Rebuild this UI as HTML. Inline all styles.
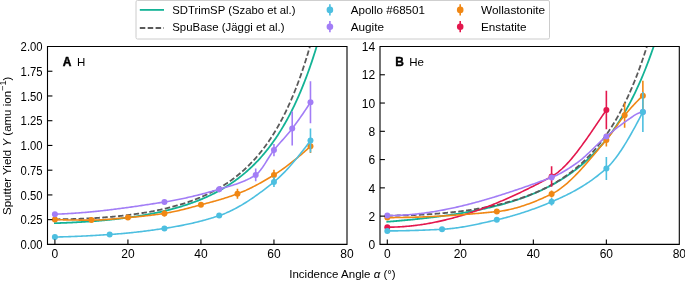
<!DOCTYPE html>
<html><head><meta charset="utf-8"><style>
html,body{margin:0;padding:0;background:#fff;}
svg{display:block;will-change:transform;}
text{font-family:"Liberation Sans", sans-serif;fill:#000;}
.t{font-size:12px;}
.pl{font-size:11.5px;}
.al{font-size:11.5px;}
.lt{font-size:11.5px;}
</style></head><body>
<svg width="685" height="281" viewBox="0 0 685 281">
<defs><clipPath id="cl"><rect x="47.5" y="46.5" width="299.5" height="197.9"/></clipPath><clipPath id="cr"><rect x="380.0" y="46.5" width="299.29999999999995" height="197.9"/></clipPath></defs>
<g clip-path="url(#cl)"><path d="M54.90,223.17 L55.81,223.15 L56.73,223.12 L57.64,223.09 L58.55,223.06 L59.46,223.03 L60.38,223.00 L61.29,222.96 L62.20,222.93 L63.11,222.90 L64.03,222.86 L64.94,222.82 L65.85,222.79 L66.77,222.75 L67.68,222.71 L68.59,222.67 L69.50,222.63 L70.42,222.59 L71.33,222.54 L72.24,222.50 L73.16,222.46 L74.07,222.41 L74.98,222.36 L75.89,222.31 L76.81,222.27 L77.72,222.22 L78.63,222.17 L79.54,222.11 L80.46,222.06 L81.37,222.01 L82.28,221.95 L83.20,221.90 L84.11,221.84 L85.02,221.78 L85.93,221.72 L86.85,221.66 L87.76,221.60 L88.67,221.54 L89.58,221.47 L90.50,221.41 L91.41,221.34 L92.32,221.27 L93.24,221.20 L94.15,221.13 L95.06,221.06 L95.97,220.99 L96.89,220.92 L97.80,220.84 L98.71,220.77 L99.62,220.69 L100.54,220.61 L101.45,220.53 L102.36,220.45 L103.28,220.37 L104.19,220.29 L105.10,220.20 L106.01,220.12 L106.93,220.03 L107.84,219.94 L108.75,219.85 L109.66,219.76 L110.58,219.66 L111.49,219.57 L112.40,219.47 L113.32,219.38 L114.23,219.28 L115.14,219.18 L116.05,219.08 L116.97,218.97 L117.88,218.87 L118.79,218.76 L119.71,218.65 L120.62,218.54 L121.53,218.43 L122.44,218.32 L123.36,218.20 L124.27,218.09 L125.18,217.97 L126.09,217.85 L127.01,217.73 L127.92,217.61 L128.83,217.48 L129.75,217.36 L130.66,217.23 L131.57,217.10 L132.48,216.96 L133.40,216.83 L134.31,216.69 L135.22,216.56 L136.13,216.42 L137.05,216.28 L137.96,216.13 L138.87,215.99 L139.79,215.84 L140.70,215.69 L141.61,215.54 L142.52,215.38 L143.44,215.23 L144.35,215.07 L145.26,214.91 L146.17,214.74 L147.09,214.58 L148.00,214.41 L148.91,214.24 L149.83,214.07 L150.74,213.90 L151.65,213.72 L152.56,213.54 L153.48,213.36 L154.39,213.17 L155.30,212.99 L156.22,212.80 L157.13,212.61 L158.04,212.41 L158.95,212.21 L159.87,212.01 L160.78,211.81 L161.69,211.60 L162.60,211.40 L163.52,211.18 L164.43,210.97 L165.34,210.75 L166.26,210.53 L167.17,210.31 L168.08,210.08 L168.99,209.85 L169.91,209.62 L170.82,209.38 L171.73,209.15 L172.64,208.90 L173.56,208.66 L174.47,208.41 L175.38,208.15 L176.30,207.90 L177.21,207.64 L178.12,207.37 L179.03,207.11 L179.95,206.84 L180.86,206.56 L181.77,206.28 L182.69,206.00 L183.60,205.71 L184.51,205.42 L185.42,205.13 L186.34,204.83 L187.25,204.53 L188.16,204.22 L189.07,203.91 L189.99,203.59 L190.90,203.27 L191.81,202.95 L192.73,202.62 L193.64,202.28 L194.55,201.94 L195.46,201.60 L196.38,201.25 L197.29,200.90 L198.20,200.54 L199.11,200.18 L200.03,199.81 L200.94,199.43 L201.85,199.05 L202.77,198.67 L203.68,198.28 L204.59,197.88 L205.50,197.48 L206.42,197.07 L207.33,196.66 L208.24,196.24 L209.15,195.81 L210.07,195.38 L210.98,194.94 L211.89,194.49 L212.81,194.04 L213.72,193.58 L214.63,193.12 L215.54,192.65 L216.46,192.17 L217.37,191.68 L218.28,191.19 L219.19,190.69 L220.11,190.18 L221.02,189.66 L221.93,189.14 L222.85,188.61 L223.76,188.07 L224.67,187.52 L225.58,186.97 L226.50,186.40 L227.41,185.83 L228.32,185.25 L229.24,184.66 L230.15,184.06 L231.06,183.45 L231.97,182.83 L232.89,182.21 L233.80,181.57 L234.71,180.92 L235.62,180.27 L236.54,179.60 L237.45,178.93 L238.36,178.24 L239.28,177.54 L240.19,176.83 L241.10,176.11 L242.01,175.38 L242.93,174.64 L243.84,173.88 L244.75,173.12 L245.66,172.34 L246.58,171.55 L247.49,170.74 L248.40,169.93 L249.32,169.10 L250.23,168.26 L251.14,167.40 L252.05,166.53 L252.97,165.65 L253.88,164.75 L254.79,163.84 L255.70,162.91 L256.62,161.97 L257.53,161.01 L258.44,160.04 L259.36,159.05 L260.27,158.04 L261.18,157.02 L262.09,155.98 L263.01,154.93 L263.92,153.85 L264.83,152.76 L265.75,151.65 L266.66,150.52 L267.57,149.38 L268.48,148.21 L269.40,147.03 L270.31,145.82 L271.22,144.60 L272.13,143.35 L273.05,142.08 L273.96,140.79 L274.87,139.48 L275.79,138.15 L276.70,136.79 L277.61,135.41 L278.52,134.01 L279.44,132.58 L280.35,131.13 L281.26,129.65 L282.17,128.15 L283.09,126.62 L284.00,125.07 L284.91,123.48 L285.83,121.87 L286.74,120.23 L287.65,118.56 L288.56,116.87 L289.48,115.14 L290.39,113.38 L291.30,111.59 L292.21,109.77 L293.13,107.92 L294.04,106.03 L294.95,104.11 L295.87,102.15 L296.78,100.16 L297.69,98.13 L298.60,96.07 L299.52,93.97 L300.43,91.83 L301.34,89.65 L302.26,87.43 L303.17,85.17 L304.08,82.87 L304.99,80.52 L305.91,78.13 L306.82,75.70 L307.73,73.22 L308.64,70.70 L309.56,68.13 L310.47,65.51 L311.38,62.84 L312.30,60.12 L313.21,57.35 L314.12,54.53 L315.03,51.66 L315.95,48.72 L316.86,45.74 L317.77,42.69" fill="none" stroke="#14b396" stroke-width="1.8" stroke-linecap="square"/>
<path d="M54.90,219.31 L55.81,219.30 L56.73,219.30 L57.64,219.29 L58.55,219.28 L59.46,219.27 L60.38,219.26 L61.29,219.25 L62.20,219.24 L63.11,219.23 L64.03,219.21 L64.94,219.20 L65.85,219.18 L66.77,219.16 L67.68,219.14 L68.59,219.12 L69.50,219.10 L70.42,219.08 L71.33,219.06 L72.24,219.03 L73.16,219.01 L74.07,218.98 L74.98,218.95 L75.89,218.92 L76.81,218.89 L77.72,218.86 L78.63,218.83 L79.54,218.80 L80.46,218.76 L81.37,218.73 L82.28,218.69 L83.20,218.65 L84.11,218.61 L85.02,218.57 L85.93,218.53 L86.85,218.48 L87.76,218.44 L88.67,218.39 L89.58,218.35 L90.50,218.30 L91.41,218.25 L92.32,218.20 L93.24,218.15 L94.15,218.09 L95.06,218.04 L95.97,217.98 L96.89,217.92 L97.80,217.87 L98.71,217.81 L99.62,217.74 L100.54,217.68 L101.45,217.62 L102.36,217.55 L103.28,217.48 L104.19,217.42 L105.10,217.35 L106.01,217.27 L106.93,217.20 L107.84,217.13 L108.75,217.05 L109.66,216.97 L110.58,216.89 L111.49,216.81 L112.40,216.73 L113.32,216.65 L114.23,216.56 L115.14,216.47 L116.05,216.39 L116.97,216.29 L117.88,216.20 L118.79,216.11 L119.71,216.01 L120.62,215.92 L121.53,215.82 L122.44,215.72 L123.36,215.61 L124.27,215.51 L125.18,215.40 L126.09,215.30 L127.01,215.19 L127.92,215.08 L128.83,214.96 L129.75,214.85 L130.66,214.73 L131.57,214.61 L132.48,214.49 L133.40,214.36 L134.31,214.24 L135.22,214.11 L136.13,213.98 L137.05,213.85 L137.96,213.72 L138.87,213.58 L139.79,213.44 L140.70,213.30 L141.61,213.16 L142.52,213.01 L143.44,212.87 L144.35,212.72 L145.26,212.57 L146.17,212.41 L147.09,212.25 L148.00,212.09 L148.91,211.93 L149.83,211.77 L150.74,211.60 L151.65,211.43 L152.56,211.26 L153.48,211.08 L154.39,210.91 L155.30,210.73 L156.22,210.54 L157.13,210.36 L158.04,210.17 L158.95,209.98 L159.87,209.78 L160.78,209.59 L161.69,209.38 L162.60,209.18 L163.52,208.97 L164.43,208.76 L165.34,208.55 L166.26,208.33 L167.17,208.12 L168.08,207.89 L168.99,207.67 L169.91,207.44 L170.82,207.20 L171.73,206.97 L172.64,206.73 L173.56,206.48 L174.47,206.23 L175.38,205.98 L176.30,205.73 L177.21,205.47 L178.12,205.20 L179.03,204.94 L179.95,204.66 L180.86,204.39 L181.77,204.11 L182.69,203.83 L183.60,203.54 L184.51,203.25 L185.42,202.95 L186.34,202.65 L187.25,202.34 L188.16,202.03 L189.07,201.71 L189.99,201.39 L190.90,201.07 L191.81,200.74 L192.73,200.40 L193.64,200.06 L194.55,199.72 L195.46,199.36 L196.38,199.01 L197.29,198.65 L198.20,198.28 L199.11,197.90 L200.03,197.53 L200.94,197.14 L201.85,196.75 L202.77,196.35 L203.68,195.95 L204.59,195.54 L205.50,195.12 L206.42,194.70 L207.33,194.27 L208.24,193.84 L209.15,193.39 L210.07,192.94 L210.98,192.49 L211.89,192.02 L212.81,191.55 L213.72,191.07 L214.63,190.59 L215.54,190.09 L216.46,189.59 L217.37,189.08 L218.28,188.56 L219.19,188.04 L220.11,187.50 L221.02,186.96 L221.93,186.41 L222.85,185.85 L223.76,185.28 L224.67,184.70 L225.58,184.11 L226.50,183.51 L227.41,182.90 L228.32,182.29 L229.24,181.66 L230.15,181.02 L231.06,180.37 L231.97,179.71 L232.89,179.04 L233.80,178.36 L234.71,177.67 L235.62,176.96 L236.54,176.24 L237.45,175.52 L238.36,174.78 L239.28,174.02 L240.19,173.26 L241.10,172.48 L242.01,171.69 L242.93,170.88 L243.84,170.06 L244.75,169.23 L245.66,168.38 L246.58,167.52 L247.49,166.65 L248.40,165.76 L249.32,164.85 L250.23,163.93 L251.14,162.99 L252.05,162.04 L252.97,161.06 L253.88,160.08 L254.79,159.07 L255.70,158.05 L256.62,157.01 L257.53,155.95 L258.44,154.87 L259.36,153.77 L260.27,152.66 L261.18,151.52 L262.09,150.36 L263.01,149.18 L263.92,147.99 L264.83,146.76 L265.75,145.52 L266.66,144.26 L267.57,142.97 L268.48,141.66 L269.40,140.32 L270.31,138.96 L271.22,137.58 L272.13,136.17 L273.05,134.73 L273.96,133.27 L274.87,131.78 L275.79,130.26 L276.70,128.71 L277.61,127.14 L278.52,125.53 L279.44,123.90 L280.35,122.23 L281.26,120.54 L282.17,118.81 L283.09,117.04 L284.00,115.25 L284.91,113.42 L285.83,111.55 L286.74,109.65 L287.65,107.71 L288.56,105.74 L289.48,103.72 L290.39,101.67 L291.30,99.58 L292.21,97.44 L293.13,95.27 L294.04,93.05 L294.95,90.78 L295.87,88.48 L296.78,86.12 L297.69,83.72 L298.60,81.27 L299.52,78.78 L300.43,76.23 L301.34,73.63 L302.26,70.98 L303.17,68.27 L304.08,65.51 L304.99,62.70 L305.91,59.82 L306.82,56.89 L307.73,53.90 L308.64,50.84 L309.56,47.73 L310.47,44.54 L311.38,41.30" fill="none" stroke="#5a5a5a" stroke-width="1.8" stroke-dasharray="5.5,2.4"/>
<path d="M54.90,219.50 L56.18,219.56 L57.47,219.62 L58.75,219.67 L60.04,219.72 L61.32,219.76 L62.61,219.81 L63.89,219.84 L65.17,219.88 L66.46,219.91 L67.74,219.94 L69.03,219.96 L70.31,219.98 L71.60,220.00 L72.88,220.02 L74.16,220.04 L75.45,220.05 L76.73,220.06 L78.02,220.07 L79.30,220.08 L80.59,220.08 L81.87,220.09 L83.15,220.09 L84.44,220.10 L85.72,220.10 L87.01,220.10 L88.29,220.10 L89.58,220.10 L90.86,220.10 L92.14,220.10 L93.43,220.09 L94.71,220.07 L96.00,220.03 L97.28,219.99 L98.57,219.95 L99.85,219.89 L101.13,219.83 L102.42,219.75 L103.70,219.68 L104.99,219.59 L106.27,219.50 L107.56,219.41 L108.84,219.31 L110.12,219.20 L111.41,219.10 L112.69,218.99 L113.98,218.87 L115.26,218.76 L116.55,218.64 L117.83,218.52 L119.11,218.40 L120.40,218.28 L121.68,218.16 L122.97,218.04 L124.25,217.93 L125.53,217.81 L126.82,217.70 L128.10,217.58 L129.39,217.47 L130.67,217.36 L131.96,217.24 L133.24,217.13 L134.52,217.01 L135.81,216.89 L137.09,216.76 L138.38,216.64 L139.66,216.51 L140.95,216.38 L142.23,216.24 L143.51,216.11 L144.80,215.97 L146.08,215.82 L147.37,215.68 L148.65,215.53 L149.94,215.38 L151.22,215.22 L152.50,215.06 L153.79,214.90 L155.07,214.73 L156.36,214.56 L157.64,214.39 L158.93,214.21 L160.21,214.03 L161.49,213.84 L162.78,213.65 L164.06,213.46 L165.35,213.26 L166.63,213.04 L167.92,212.82 L169.20,212.58 L170.48,212.34 L171.77,212.08 L173.05,211.82 L174.34,211.55 L175.62,211.27 L176.91,210.98 L178.19,210.68 L179.47,210.38 L180.76,210.07 L182.04,209.76 L183.33,209.44 L184.61,209.12 L185.90,208.79 L187.18,208.46 L188.46,208.12 L189.75,207.78 L191.03,207.44 L192.32,207.10 L193.60,206.76 L194.89,206.42 L196.17,206.07 L197.45,205.73 L198.74,205.38 L200.02,205.04 L201.31,204.70 L202.59,204.36 L203.88,204.02 L205.16,203.68 L206.44,203.34 L207.73,203.00 L209.01,202.66 L210.30,202.31 L211.58,201.97 L212.87,201.62 L214.15,201.26 L215.43,200.90 L216.72,200.54 L218.00,200.18 L219.29,199.80 L220.57,199.43 L221.86,199.05 L223.14,198.66 L224.42,198.26 L225.71,197.86 L226.99,197.45 L228.28,197.04 L229.56,196.61 L230.85,196.18 L232.13,195.74 L233.41,195.28 L234.70,194.82 L235.98,194.35 L237.27,193.87 L238.55,193.38 L239.84,192.87 L241.12,192.34 L242.40,191.80 L243.69,191.25 L244.97,190.68 L246.26,190.11 L247.54,189.51 L248.82,188.91 L250.11,188.29 L251.39,187.66 L252.68,187.02 L253.96,186.36 L255.25,185.70 L256.53,185.02 L257.81,184.33 L259.10,183.64 L260.38,182.93 L261.67,182.21 L262.95,181.48 L264.24,180.75 L265.52,180.00 L266.80,179.25 L268.09,178.48 L269.37,177.71 L270.66,176.94 L271.94,176.15 L273.23,175.36 L274.51,174.56 L275.79,173.74 L277.08,172.91 L278.36,172.06 L279.65,171.19 L280.93,170.31 L282.22,169.42 L283.50,168.50 L284.78,167.58 L286.07,166.64 L287.35,165.68 L288.64,164.71 L289.92,163.73 L291.21,162.73 L292.49,161.72 L293.77,160.69 L295.06,159.66 L296.34,158.61 L297.63,157.55 L298.91,156.47 L300.20,155.39 L301.48,154.29 L302.76,153.18 L304.05,152.06 L305.33,150.93 L306.62,149.79 L307.90,148.63 L309.19,147.47 L310.47,146.30" fill="none" stroke="#f08714" stroke-width="1.6" stroke-linejoin="round" stroke-linecap="square"/>
<circle cx="54.90" cy="219.50" r="3.0" fill="#f08714"/>
<circle cx="91.41" cy="220.10" r="3.0" fill="#f08714"/>
<circle cx="127.92" cy="217.60" r="3.0" fill="#f08714"/>
<line x1="164.43" y1="210.20" x2="164.43" y2="216.60" stroke="#f08714" stroke-width="1.6"/>
<circle cx="164.43" cy="213.40" r="3.0" fill="#f08714"/>
<line x1="200.94" y1="202.80" x2="200.94" y2="206.80" stroke="#f08714" stroke-width="1.6"/>
<circle cx="200.94" cy="204.80" r="3.0" fill="#f08714"/>
<line x1="237.45" y1="188.80" x2="237.45" y2="198.80" stroke="#f08714" stroke-width="1.6"/>
<circle cx="237.45" cy="193.80" r="3.0" fill="#f08714"/>
<line x1="273.96" y1="169.70" x2="273.96" y2="180.10" stroke="#f08714" stroke-width="1.6"/>
<circle cx="273.96" cy="174.90" r="3.0" fill="#f08714"/>
<line x1="310.47" y1="139.60" x2="310.47" y2="153.00" stroke="#f08714" stroke-width="1.6"/>
<circle cx="310.47" cy="146.30" r="3.0" fill="#f08714"/>
<path d="M54.90,214.20 L56.18,214.16 L57.47,214.12 L58.75,214.07 L60.04,214.02 L61.32,213.97 L62.61,213.91 L63.89,213.85 L65.17,213.78 L66.46,213.72 L67.74,213.65 L69.03,213.57 L70.31,213.50 L71.60,213.42 L72.88,213.33 L74.16,213.25 L75.45,213.16 L76.73,213.07 L78.02,212.97 L79.30,212.88 L80.59,212.78 L81.87,212.67 L83.15,212.57 L84.44,212.46 L85.72,212.35 L87.01,212.24 L88.29,212.12 L89.58,212.00 L90.86,211.88 L92.14,211.76 L93.43,211.63 L94.71,211.50 L96.00,211.37 L97.28,211.24 L98.57,211.10 L99.85,210.96 L101.13,210.82 L102.42,210.68 L103.70,210.54 L104.99,210.39 L106.27,210.24 L107.56,210.09 L108.84,209.94 L110.12,209.79 L111.41,209.63 L112.69,209.47 L113.98,209.31 L115.26,209.15 L116.55,208.99 L117.83,208.82 L119.11,208.66 L120.40,208.49 L121.68,208.32 L122.97,208.15 L124.25,207.97 L125.53,207.80 L126.82,207.62 L128.10,207.44 L129.39,207.27 L130.67,207.09 L131.96,206.90 L133.24,206.72 L134.52,206.54 L135.81,206.35 L137.09,206.17 L138.38,205.98 L139.66,205.79 L140.95,205.60 L142.23,205.41 L143.51,205.22 L144.80,205.03 L146.08,204.83 L147.37,204.64 L148.65,204.44 L149.94,204.25 L151.22,204.05 L152.50,203.86 L153.79,203.66 L155.07,203.46 L156.36,203.26 L157.64,203.06 L158.93,202.86 L160.21,202.66 L161.49,202.46 L162.78,202.26 L164.06,202.06 L165.35,201.85 L166.63,201.65 L167.92,201.43 L169.20,201.21 L170.48,200.99 L171.77,200.76 L173.05,200.53 L174.34,200.29 L175.62,200.04 L176.91,199.79 L178.19,199.54 L179.47,199.28 L180.76,199.02 L182.04,198.75 L183.33,198.48 L184.61,198.20 L185.90,197.92 L187.18,197.63 L188.46,197.34 L189.75,197.05 L191.03,196.75 L192.32,196.44 L193.60,196.14 L194.89,195.82 L196.17,195.51 L197.45,195.19 L198.74,194.86 L200.02,194.53 L201.31,194.20 L202.59,193.87 L203.88,193.53 L205.16,193.18 L206.44,192.84 L207.73,192.48 L209.01,192.13 L210.30,191.77 L211.58,191.41 L212.87,191.05 L214.15,190.68 L215.43,190.31 L216.72,189.93 L218.00,189.55 L219.29,189.17 L220.57,188.79 L221.86,188.42 L223.14,188.05 L224.42,187.68 L225.71,187.31 L226.99,186.93 L228.28,186.56 L229.56,186.18 L230.85,185.79 L232.13,185.40 L233.41,184.99 L234.70,184.58 L235.98,184.15 L237.27,183.71 L238.55,183.26 L239.84,182.78 L241.12,182.29 L242.40,181.78 L243.69,181.24 L244.97,180.68 L246.26,180.10 L247.54,179.49 L248.82,178.85 L250.11,178.19 L251.39,177.49 L252.68,176.76 L253.96,175.99 L255.25,175.19 L256.53,174.31 L257.81,173.19 L259.10,171.84 L260.38,170.30 L261.67,168.60 L262.95,166.77 L264.24,164.83 L265.52,162.83 L266.80,160.78 L268.09,158.73 L269.37,156.70 L270.66,154.73 L271.94,152.83 L273.23,151.05 L274.51,149.41 L275.79,147.83 L277.08,146.28 L278.36,144.77 L279.65,143.29 L280.93,141.82 L282.22,140.36 L283.50,138.91 L284.78,137.44 L286.07,135.97 L287.35,134.47 L288.64,132.95 L289.92,131.39 L291.21,129.79 L292.49,128.14 L293.77,126.46 L295.06,124.75 L296.34,123.01 L297.63,121.24 L298.91,119.46 L300.20,117.64 L301.48,115.80 L302.76,113.94 L304.05,112.06 L305.33,110.15 L306.62,108.22 L307.90,106.27 L309.19,104.29 L310.47,102.30" fill="none" stroke="#a27df6" stroke-width="1.6" stroke-linejoin="round" stroke-linecap="square"/>
<circle cx="54.90" cy="214.20" r="3.0" fill="#a27df6"/>
<circle cx="164.43" cy="202.00" r="3.0" fill="#a27df6"/>
<line x1="219.19" y1="186.20" x2="219.19" y2="192.20" stroke="#a27df6" stroke-width="1.6"/>
<circle cx="219.19" cy="189.20" r="3.0" fill="#a27df6"/>
<line x1="255.70" y1="168.60" x2="255.70" y2="181.20" stroke="#a27df6" stroke-width="1.6"/>
<circle cx="255.70" cy="174.90" r="3.0" fill="#a27df6"/>
<line x1="273.96" y1="143.90" x2="273.96" y2="156.30" stroke="#a27df6" stroke-width="1.6"/>
<circle cx="273.96" cy="150.10" r="3.0" fill="#a27df6"/>
<line x1="292.21" y1="111.50" x2="292.21" y2="145.50" stroke="#a27df6" stroke-width="1.6"/>
<circle cx="292.21" cy="128.50" r="3.0" fill="#a27df6"/>
<line x1="310.47" y1="81.30" x2="310.47" y2="123.30" stroke="#a27df6" stroke-width="1.6"/>
<circle cx="310.47" cy="102.30" r="3.0" fill="#a27df6"/>
<path d="M54.90,237.00 L56.18,236.98 L57.47,236.96 L58.75,236.94 L60.04,236.91 L61.32,236.88 L62.61,236.85 L63.89,236.82 L65.17,236.78 L66.46,236.75 L67.74,236.71 L69.03,236.66 L70.31,236.62 L71.60,236.57 L72.88,236.52 L74.16,236.47 L75.45,236.42 L76.73,236.36 L78.02,236.31 L79.30,236.25 L80.59,236.19 L81.87,236.13 L83.15,236.06 L84.44,236.00 L85.72,235.93 L87.01,235.86 L88.29,235.79 L89.58,235.72 L90.86,235.65 L92.14,235.58 L93.43,235.51 L94.71,235.43 L96.00,235.36 L97.28,235.28 L98.57,235.20 L99.85,235.12 L101.13,235.04 L102.42,234.96 L103.70,234.88 L104.99,234.80 L106.27,234.72 L107.56,234.64 L108.84,234.55 L110.12,234.47 L111.41,234.38 L112.69,234.30 L113.98,234.20 L115.26,234.11 L116.55,234.01 L117.83,233.91 L119.11,233.80 L120.40,233.69 L121.68,233.58 L122.97,233.47 L124.25,233.35 L125.53,233.23 L126.82,233.11 L128.10,232.99 L129.39,232.86 L130.67,232.73 L131.96,232.59 L133.24,232.46 L134.52,232.32 L135.81,232.18 L137.09,232.03 L138.38,231.89 L139.66,231.74 L140.95,231.59 L142.23,231.43 L143.51,231.28 L144.80,231.12 L146.08,230.95 L147.37,230.79 L148.65,230.62 L149.94,230.46 L151.22,230.28 L152.50,230.11 L153.79,229.94 L155.07,229.76 L156.36,229.58 L157.64,229.40 L158.93,229.21 L160.21,229.03 L161.49,228.84 L162.78,228.65 L164.06,228.46 L165.35,228.26 L166.63,228.06 L167.92,227.86 L169.20,227.65 L170.48,227.44 L171.77,227.23 L173.05,227.01 L174.34,226.79 L175.62,226.56 L176.91,226.33 L178.19,226.10 L179.47,225.85 L180.76,225.61 L182.04,225.36 L183.33,225.10 L184.61,224.84 L185.90,224.58 L187.18,224.31 L188.46,224.03 L189.75,223.75 L191.03,223.46 L192.32,223.17 L193.60,222.87 L194.89,222.57 L196.17,222.26 L197.45,221.94 L198.74,221.62 L200.02,221.29 L201.31,220.96 L202.59,220.62 L203.88,220.27 L205.16,219.92 L206.44,219.56 L207.73,219.19 L209.01,218.82 L210.30,218.44 L211.58,218.05 L212.87,217.65 L214.15,217.25 L215.43,216.84 L216.72,216.42 L218.00,216.00 L219.29,215.57 L220.57,215.12 L221.86,214.65 L223.14,214.16 L224.42,213.65 L225.71,213.13 L226.99,212.58 L228.28,212.01 L229.56,211.42 L230.85,210.81 L232.13,210.19 L233.41,209.55 L234.70,208.89 L235.98,208.21 L237.27,207.51 L238.55,206.80 L239.84,206.07 L241.12,205.33 L242.40,204.57 L243.69,203.80 L244.97,203.01 L246.26,202.20 L247.54,201.38 L248.82,200.55 L250.11,199.70 L251.39,198.84 L252.68,197.97 L253.96,197.08 L255.25,196.18 L256.53,195.27 L257.81,194.35 L259.10,193.42 L260.38,192.47 L261.67,191.52 L262.95,190.55 L264.24,189.58 L265.52,188.59 L266.80,187.60 L268.09,186.59 L269.37,185.58 L270.66,184.56 L271.94,183.53 L273.23,182.50 L274.51,181.45 L275.79,180.37 L277.08,179.25 L278.36,178.10 L279.65,176.91 L280.93,175.69 L282.22,174.43 L283.50,173.14 L284.78,171.83 L286.07,170.48 L287.35,169.10 L288.64,167.69 L289.92,166.26 L291.21,164.81 L292.49,163.32 L293.77,161.82 L295.06,160.29 L296.34,158.74 L297.63,157.17 L298.91,155.58 L300.20,153.98 L301.48,152.35 L302.76,150.71 L304.05,149.06 L305.33,147.39 L306.62,145.71 L307.90,144.02 L309.19,142.31 L310.47,140.60" fill="none" stroke="#4dbfe0" stroke-width="1.6" stroke-linejoin="round" stroke-linecap="square"/>
<circle cx="54.90" cy="237.00" r="3.0" fill="#4dbfe0"/>
<circle cx="109.66" cy="234.50" r="3.0" fill="#4dbfe0"/>
<circle cx="164.43" cy="228.40" r="3.0" fill="#4dbfe0"/>
<circle cx="219.19" cy="215.60" r="3.0" fill="#4dbfe0"/>
<line x1="273.96" y1="176.90" x2="273.96" y2="186.90" stroke="#4dbfe0" stroke-width="1.6"/>
<circle cx="273.96" cy="181.90" r="3.0" fill="#4dbfe0"/>
<line x1="310.47" y1="128.60" x2="310.47" y2="152.60" stroke="#4dbfe0" stroke-width="1.6"/>
<circle cx="310.47" cy="140.60" r="3.0" fill="#4dbfe0"/></g>
<g clip-path="url(#cr)"><path d="M387.30,221.75 L388.21,221.68 L389.13,221.61 L390.04,221.53 L390.95,221.46 L391.86,221.38 L392.78,221.31 L393.69,221.23 L394.60,221.16 L395.51,221.08 L396.43,221.00 L397.34,220.92 L398.25,220.84 L399.17,220.76 L400.08,220.68 L400.99,220.60 L401.90,220.52 L402.82,220.44 L403.73,220.35 L404.64,220.27 L405.56,220.19 L406.47,220.10 L407.38,220.01 L408.29,219.93 L409.21,219.84 L410.12,219.75 L411.03,219.66 L411.94,219.57 L412.86,219.48 L413.77,219.39 L414.68,219.29 L415.60,219.20 L416.51,219.11 L417.42,219.01 L418.33,218.92 L419.25,218.82 L420.16,218.72 L421.07,218.62 L421.98,218.52 L422.90,218.42 L423.81,218.32 L424.72,218.22 L425.64,218.11 L426.55,218.01 L427.46,217.90 L428.37,217.80 L429.29,217.69 L430.20,217.58 L431.11,217.47 L432.02,217.36 L432.94,217.25 L433.85,217.13 L434.76,217.02 L435.68,216.90 L436.59,216.79 L437.50,216.67 L438.41,216.55 L439.33,216.43 L440.24,216.31 L441.15,216.19 L442.06,216.07 L442.98,215.94 L443.89,215.82 L444.80,215.69 L445.72,215.56 L446.63,215.43 L447.54,215.30 L448.45,215.17 L449.37,215.03 L450.28,214.90 L451.19,214.76 L452.11,214.62 L453.02,214.48 L453.93,214.34 L454.84,214.20 L455.76,214.06 L456.67,213.91 L457.58,213.77 L458.49,213.62 L459.41,213.47 L460.32,213.32 L461.23,213.17 L462.15,213.01 L463.06,212.86 L463.97,212.70 L464.88,212.54 L465.80,212.38 L466.71,212.22 L467.62,212.05 L468.53,211.89 L469.45,211.72 L470.36,211.55 L471.27,211.38 L472.19,211.20 L473.10,211.03 L474.01,210.85 L474.92,210.67 L475.84,210.49 L476.75,210.31 L477.66,210.12 L478.57,209.94 L479.49,209.75 L480.40,209.56 L481.31,209.37 L482.23,209.17 L483.14,208.97 L484.05,208.77 L484.96,208.57 L485.88,208.37 L486.79,208.16 L487.70,207.95 L488.62,207.74 L489.53,207.53 L490.44,207.31 L491.35,207.10 L492.27,206.87 L493.18,206.65 L494.09,206.43 L495.00,206.20 L495.92,205.97 L496.83,205.73 L497.74,205.50 L498.66,205.26 L499.57,205.02 L500.48,204.77 L501.39,204.53 L502.31,204.28 L503.22,204.02 L504.13,203.77 L505.04,203.51 L505.96,203.25 L506.87,202.98 L507.78,202.72 L508.70,202.44 L509.61,202.17 L510.52,201.89 L511.43,201.61 L512.35,201.33 L513.26,201.04 L514.17,200.75 L515.09,200.46 L516.00,200.16 L516.91,199.86 L517.82,199.55 L518.74,199.24 L519.65,198.93 L520.56,198.61 L521.47,198.29 L522.39,197.97 L523.30,197.64 L524.21,197.31 L525.13,196.97 L526.04,196.63 L526.95,196.29 L527.86,195.94 L528.78,195.58 L529.69,195.23 L530.60,194.87 L531.51,194.50 L532.43,194.13 L533.34,193.75 L534.25,193.37 L535.17,192.99 L536.08,192.60 L536.99,192.20 L537.90,191.80 L538.82,191.40 L539.73,190.98 L540.64,190.57 L541.55,190.15 L542.47,189.72 L543.38,189.29 L544.29,188.85 L545.21,188.41 L546.12,187.96 L547.03,187.51 L547.94,187.04 L548.86,186.58 L549.77,186.10 L550.68,185.63 L551.60,185.14 L552.51,184.65 L553.42,184.15 L554.33,183.64 L555.25,183.13 L556.16,182.61 L557.07,182.09 L557.98,181.56 L558.90,181.02 L559.81,180.47 L560.72,179.91 L561.64,179.35 L562.55,178.78 L563.46,178.21 L564.37,177.62 L565.29,177.03 L566.20,176.43 L567.11,175.82 L568.02,175.20 L568.94,174.57 L569.85,173.94 L570.76,173.29 L571.68,172.64 L572.59,171.98 L573.50,171.30 L574.41,170.62 L575.33,169.93 L576.24,169.23 L577.15,168.52 L578.06,167.80 L578.98,167.07 L579.89,166.33 L580.80,165.58 L581.72,164.81 L582.63,164.04 L583.54,163.25 L584.45,162.46 L585.37,161.65 L586.28,160.83 L587.19,160.00 L588.11,159.16 L589.02,158.30 L589.93,157.43 L590.84,156.55 L591.76,155.66 L592.67,154.75 L593.58,153.83 L594.49,152.89 L595.41,151.94 L596.32,150.98 L597.23,150.00 L598.15,149.01 L599.06,148.00 L599.97,146.98 L600.88,145.94 L601.80,144.89 L602.71,143.82 L603.62,142.73 L604.53,141.63 L605.45,140.51 L606.36,139.37 L607.27,138.22 L608.19,137.04 L609.10,135.85 L610.01,134.64 L610.92,133.42 L611.84,132.17 L612.75,130.90 L613.66,129.61 L614.57,128.31 L615.49,126.98 L616.40,125.63 L617.31,124.26 L618.23,122.86 L619.14,121.45 L620.05,120.01 L620.96,118.55 L621.88,117.06 L622.79,115.56 L623.70,114.02 L624.62,112.46 L625.53,110.88 L626.44,109.27 L627.35,107.63 L628.27,105.97 L629.18,104.28 L630.09,102.56 L631.00,100.81 L631.92,99.04 L632.83,97.23 L633.74,95.40 L634.66,93.53 L635.57,91.63 L636.48,89.70 L637.39,87.74 L638.31,85.74 L639.22,83.71 L640.13,81.64 L641.04,79.54 L641.96,77.41 L642.87,75.23 L643.78,73.02 L644.70,70.77 L645.61,68.48 L646.52,66.16 L647.43,63.79 L648.35,61.38 L649.26,58.93 L650.17,56.43 L651.08,53.89 L652.00,51.31 L652.91,48.68 L653.82,46.00 L654.74,43.27" fill="none" stroke="#14b396" stroke-width="1.8" stroke-linecap="square"/>
<path d="M387.30,215.64 L388.21,215.63 L389.13,215.63 L390.04,215.62 L390.95,215.61 L391.86,215.60 L392.78,215.59 L393.69,215.58 L394.60,215.57 L395.51,215.55 L396.43,215.54 L397.34,215.52 L398.25,215.51 L399.17,215.49 L400.08,215.47 L400.99,215.45 L401.90,215.43 L402.82,215.40 L403.73,215.38 L404.64,215.35 L405.56,215.33 L406.47,215.30 L407.38,215.27 L408.29,215.24 L409.21,215.21 L410.12,215.18 L411.03,215.15 L411.94,215.11 L412.86,215.07 L413.77,215.04 L414.68,215.00 L415.60,214.96 L416.51,214.92 L417.42,214.88 L418.33,214.83 L419.25,214.79 L420.16,214.74 L421.07,214.70 L421.98,214.65 L422.90,214.60 L423.81,214.55 L424.72,214.49 L425.64,214.44 L426.55,214.39 L427.46,214.33 L428.37,214.27 L429.29,214.21 L430.20,214.15 L431.11,214.09 L432.02,214.03 L432.94,213.96 L433.85,213.90 L434.76,213.83 L435.68,213.76 L436.59,213.69 L437.50,213.62 L438.41,213.54 L439.33,213.47 L440.24,213.39 L441.15,213.31 L442.06,213.23 L442.98,213.15 L443.89,213.07 L444.80,212.99 L445.72,212.90 L446.63,212.81 L447.54,212.72 L448.45,212.63 L449.37,212.54 L450.28,212.45 L451.19,212.35 L452.11,212.25 L453.02,212.15 L453.93,212.05 L454.84,211.95 L455.76,211.85 L456.67,211.74 L457.58,211.63 L458.49,211.52 L459.41,211.41 L460.32,211.30 L461.23,211.18 L462.15,211.06 L463.06,210.95 L463.97,210.82 L464.88,210.70 L465.80,210.58 L466.71,210.45 L467.62,210.32 L468.53,210.19 L469.45,210.05 L470.36,209.92 L471.27,209.78 L472.19,209.64 L473.10,209.50 L474.01,209.36 L474.92,209.21 L475.84,209.06 L476.75,208.91 L477.66,208.76 L478.57,208.60 L479.49,208.44 L480.40,208.28 L481.31,208.12 L482.23,207.95 L483.14,207.79 L484.05,207.61 L484.96,207.44 L485.88,207.27 L486.79,207.09 L487.70,206.91 L488.62,206.72 L489.53,206.54 L490.44,206.35 L491.35,206.16 L492.27,205.96 L493.18,205.77 L494.09,205.57 L495.00,205.36 L495.92,205.16 L496.83,204.95 L497.74,204.73 L498.66,204.52 L499.57,204.30 L500.48,204.08 L501.39,203.85 L502.31,203.63 L503.22,203.39 L504.13,203.16 L505.04,202.92 L505.96,202.68 L506.87,202.43 L507.78,202.18 L508.70,201.93 L509.61,201.68 L510.52,201.42 L511.43,201.15 L512.35,200.88 L513.26,200.61 L514.17,200.34 L515.09,200.06 L516.00,199.78 L516.91,199.49 L517.82,199.20 L518.74,198.90 L519.65,198.60 L520.56,198.30 L521.47,197.99 L522.39,197.67 L523.30,197.36 L524.21,197.03 L525.13,196.71 L526.04,196.38 L526.95,196.04 L527.86,195.70 L528.78,195.35 L529.69,195.00 L530.60,194.64 L531.51,194.28 L532.43,193.91 L533.34,193.54 L534.25,193.16 L535.17,192.78 L536.08,192.39 L536.99,191.99 L537.90,191.59 L538.82,191.19 L539.73,190.77 L540.64,190.35 L541.55,189.93 L542.47,189.50 L543.38,189.06 L544.29,188.62 L545.21,188.17 L546.12,187.71 L547.03,187.24 L547.94,186.77 L548.86,186.29 L549.77,185.81 L550.68,185.32 L551.60,184.82 L552.51,184.31 L553.42,183.79 L554.33,183.27 L555.25,182.74 L556.16,182.20 L557.07,181.65 L557.98,181.10 L558.90,180.53 L559.81,179.96 L560.72,179.38 L561.64,178.79 L562.55,178.19 L563.46,177.58 L564.37,176.96 L565.29,176.33 L566.20,175.70 L567.11,175.05 L568.02,174.39 L568.94,173.72 L569.85,173.05 L570.76,172.36 L571.68,171.66 L572.59,170.95 L573.50,170.23 L574.41,169.49 L575.33,168.75 L576.24,167.99 L577.15,167.22 L578.06,166.44 L578.98,165.65 L579.89,164.85 L580.80,164.03 L581.72,163.20 L582.63,162.35 L583.54,161.49 L584.45,160.62 L585.37,159.73 L586.28,158.83 L587.19,157.92 L588.11,156.99 L589.02,156.04 L589.93,155.08 L590.84,154.10 L591.76,153.11 L592.67,152.10 L593.58,151.08 L594.49,150.03 L595.41,148.97 L596.32,147.89 L597.23,146.80 L598.15,145.68 L599.06,144.55 L599.97,143.40 L600.88,142.23 L601.80,141.04 L602.71,139.83 L603.62,138.59 L604.53,137.34 L605.45,136.07 L606.36,134.77 L607.27,133.45 L608.19,132.11 L609.10,130.75 L610.01,129.36 L610.92,127.95 L611.84,126.51 L612.75,125.05 L613.66,123.56 L614.57,122.05 L615.49,120.51 L616.40,118.94 L617.31,117.35 L618.23,115.73 L619.14,114.07 L620.05,112.39 L620.96,110.68 L621.88,108.94 L622.79,107.17 L623.70,105.36 L624.62,103.53 L625.53,101.66 L626.44,99.75 L627.35,97.81 L628.27,95.84 L629.18,93.83 L630.09,91.78 L631.00,89.70 L631.92,87.58 L632.83,85.41 L633.74,83.21 L634.66,80.97 L635.57,78.68 L636.48,76.36 L637.39,73.99 L638.31,71.57 L639.22,69.11 L640.13,66.60 L641.04,64.05 L641.96,61.44 L642.87,58.79 L643.78,56.09 L644.70,53.33 L645.61,50.52 L646.52,47.66 L647.43,44.74 L648.35,41.77" fill="none" stroke="#5a5a5a" stroke-width="1.8" stroke-dasharray="5.5,2.4"/>
<path d="M387.30,227.20 L388.40,227.20 L389.50,227.19 L390.60,227.17 L391.70,227.16 L392.80,227.13 L393.90,227.10 L395.01,227.06 L396.11,227.02 L397.21,226.98 L398.31,226.92 L399.41,226.87 L400.51,226.80 L401.61,226.73 L402.71,226.66 L403.81,226.58 L404.91,226.50 L406.01,226.41 L407.11,226.31 L408.22,226.21 L409.32,226.11 L410.42,226.00 L411.52,225.88 L412.62,225.76 L413.72,225.64 L414.82,225.51 L415.92,225.37 L417.02,225.23 L418.12,225.08 L419.22,224.93 L420.32,224.78 L421.42,224.61 L422.53,224.45 L423.63,224.28 L424.73,224.10 L425.83,223.92 L426.93,223.74 L428.03,223.55 L429.13,223.35 L430.23,223.15 L431.33,222.95 L432.43,222.74 L433.53,222.52 L434.63,222.30 L435.74,222.08 L436.84,221.85 L437.94,221.62 L439.04,221.38 L440.14,221.14 L441.24,220.89 L442.34,220.64 L443.44,220.38 L444.54,220.12 L445.64,219.86 L446.74,219.59 L447.84,219.32 L448.95,219.04 L450.05,218.75 L451.15,218.47 L452.25,218.18 L453.35,217.88 L454.45,217.58 L455.55,217.28 L456.65,216.97 L457.75,216.65 L458.85,216.34 L459.95,216.01 L461.05,215.69 L462.15,215.36 L463.26,215.02 L464.36,214.69 L465.46,214.34 L466.56,214.00 L467.66,213.65 L468.76,213.29 L469.86,212.93 L470.96,212.57 L472.06,212.20 L473.16,211.83 L474.26,211.46 L475.36,211.08 L476.47,210.70 L477.57,210.31 L478.67,209.92 L479.77,209.53 L480.87,209.13 L481.97,208.73 L483.07,208.32 L484.17,207.91 L485.27,207.50 L486.37,207.08 L487.47,206.66 L488.57,206.24 L489.67,205.81 L490.78,205.38 L491.88,204.94 L492.98,204.50 L494.08,204.06 L495.18,203.62 L496.28,203.17 L497.38,202.71 L498.48,202.26 L499.58,201.80 L500.68,201.33 L501.78,200.87 L502.88,200.40 L503.99,199.92 L505.09,199.45 L506.19,198.97 L507.29,198.48 L508.39,198.00 L509.49,197.51 L510.59,197.01 L511.69,196.52 L512.79,196.02 L513.89,195.51 L514.99,195.01 L516.09,194.50 L517.19,193.98 L518.30,193.47 L519.40,192.95 L520.50,192.43 L521.60,191.90 L522.70,191.37 L523.80,190.84 L524.90,190.31 L526.00,189.77 L527.10,189.23 L528.20,188.69 L529.30,188.14 L530.40,187.59 L531.51,187.04 L532.61,186.49 L533.71,185.93 L534.81,185.37 L535.91,184.81 L537.01,184.24 L538.11,183.68 L539.21,183.10 L540.31,182.53 L541.41,181.95 L542.51,181.38 L543.61,180.79 L544.71,180.21 L545.82,179.62 L546.92,179.03 L548.02,178.44 L549.12,177.85 L550.22,177.25 L551.32,176.65 L552.42,176.04 L553.52,175.37 L554.62,174.66 L555.72,173.91 L556.82,173.11 L557.92,172.27 L559.03,171.38 L560.13,170.46 L561.23,169.49 L562.33,168.49 L563.43,167.44 L564.53,166.36 L565.63,165.25 L566.73,164.10 L567.83,162.92 L568.93,161.71 L570.03,160.46 L571.13,159.19 L572.24,157.89 L573.34,156.56 L574.44,155.21 L575.54,153.83 L576.64,152.43 L577.74,151.00 L578.84,149.56 L579.94,148.09 L581.04,146.61 L582.14,145.10 L583.24,143.59 L584.34,142.05 L585.44,140.50 L586.55,138.94 L587.65,137.37 L588.75,135.79 L589.85,134.20 L590.95,132.60 L592.05,130.99 L593.15,129.38 L594.25,127.76 L595.35,126.14 L596.45,124.52 L597.55,122.89 L598.65,121.27 L599.76,119.64 L600.86,118.02 L601.96,116.41 L603.06,114.80 L604.16,113.19 L605.26,111.59 L606.36,110.00" fill="none" stroke="#e3174d" stroke-width="1.6" stroke-linejoin="round" stroke-linecap="square"/>
<circle cx="387.30" cy="227.20" r="3.0" fill="#e3174d"/>
<line x1="551.60" y1="166.30" x2="551.60" y2="186.70" stroke="#e3174d" stroke-width="1.6"/>
<circle cx="551.60" cy="176.50" r="3.0" fill="#e3174d"/>
<line x1="606.36" y1="90.70" x2="606.36" y2="129.30" stroke="#e3174d" stroke-width="1.6"/>
<circle cx="606.36" cy="110.00" r="3.0" fill="#e3174d"/>
<path d="M387.30,217.60 L388.58,217.60 L389.87,217.60 L391.15,217.59 L392.44,217.58 L393.72,217.58 L395.01,217.57 L396.29,217.55 L397.57,217.54 L398.86,217.52 L400.14,217.51 L401.43,217.49 L402.71,217.47 L404.00,217.44 L405.28,217.42 L406.56,217.39 L407.85,217.36 L409.13,217.33 L410.42,217.30 L411.70,217.27 L412.99,217.23 L414.27,217.20 L415.55,217.16 L416.84,217.12 L418.12,217.08 L419.41,217.03 L420.69,216.99 L421.98,216.94 L423.26,216.89 L424.54,216.84 L425.83,216.79 L427.11,216.73 L428.40,216.68 L429.68,216.62 L430.97,216.56 L432.25,216.50 L433.53,216.44 L434.82,216.38 L436.10,216.31 L437.39,216.25 L438.67,216.18 L439.96,216.11 L441.24,216.04 L442.52,215.96 L443.81,215.89 L445.09,215.82 L446.38,215.74 L447.66,215.66 L448.95,215.58 L450.23,215.50 L451.51,215.41 L452.80,215.33 L454.08,215.24 L455.37,215.16 L456.65,215.07 L457.93,214.98 L459.22,214.88 L460.50,214.79 L461.79,214.70 L463.07,214.60 L464.36,214.50 L465.64,214.40 L466.92,214.30 L468.21,214.20 L469.49,214.10 L470.78,213.99 L472.06,213.89 L473.35,213.78 L474.63,213.67 L475.91,213.56 L477.20,213.45 L478.48,213.34 L479.77,213.23 L481.05,213.11 L482.34,213.00 L483.62,212.88 L484.90,212.76 L486.19,212.64 L487.47,212.52 L488.76,212.40 L490.04,212.27 L491.33,212.15 L492.61,212.02 L493.89,211.90 L495.18,211.77 L496.46,211.64 L497.75,211.50 L499.03,211.35 L500.32,211.19 L501.60,211.00 L502.88,210.80 L504.17,210.59 L505.45,210.36 L506.74,210.12 L508.02,209.86 L509.31,209.58 L510.59,209.30 L511.87,208.99 L513.16,208.68 L514.44,208.35 L515.73,208.01 L517.01,207.65 L518.30,207.28 L519.58,206.90 L520.86,206.51 L522.15,206.10 L523.43,205.68 L524.72,205.25 L526.00,204.81 L527.29,204.36 L528.57,203.90 L529.85,203.42 L531.14,202.94 L532.42,202.45 L533.71,201.94 L534.99,201.43 L536.28,200.90 L537.56,200.37 L538.84,199.83 L540.13,199.27 L541.41,198.72 L542.70,198.15 L543.98,197.57 L545.27,196.99 L546.55,196.39 L547.83,195.80 L549.12,195.19 L550.40,194.58 L551.69,193.96 L552.97,193.30 L554.26,192.61 L555.54,191.86 L556.82,191.07 L558.11,190.23 L559.39,189.35 L560.68,188.44 L561.96,187.48 L563.25,186.48 L564.53,185.44 L565.81,184.37 L567.10,183.27 L568.38,182.13 L569.67,180.96 L570.95,179.75 L572.24,178.52 L573.52,177.27 L574.80,175.98 L576.09,174.67 L577.37,173.34 L578.66,171.98 L579.94,170.61 L581.22,169.21 L582.51,167.79 L583.79,166.36 L585.08,164.92 L586.36,163.45 L587.65,161.98 L588.93,160.50 L590.21,159.00 L591.50,157.50 L592.78,155.98 L594.07,154.47 L595.35,152.94 L596.64,151.42 L597.92,149.89 L599.20,148.36 L600.49,146.83 L601.77,145.31 L603.06,143.79 L604.34,142.27 L605.63,140.76 L606.91,139.25 L608.19,137.67 L609.48,136.01 L610.76,134.29 L612.05,132.53 L613.33,130.73 L614.62,128.90 L615.90,127.07 L617.18,125.23 L618.47,123.41 L619.75,121.62 L621.04,119.87 L622.32,118.17 L623.61,116.53 L624.89,114.97 L626.17,113.45 L627.46,111.95 L628.74,110.47 L630.03,109.01 L631.31,107.57 L632.60,106.16 L633.88,104.76 L635.16,103.39 L636.45,102.05 L637.73,100.73 L639.02,99.43 L640.30,98.16 L641.59,96.92 L642.87,95.70" fill="none" stroke="#f08714" stroke-width="1.6" stroke-linejoin="round" stroke-linecap="square"/>
<circle cx="387.30" cy="217.60" r="3.0" fill="#f08714"/>
<circle cx="496.83" cy="211.60" r="3.0" fill="#f08714"/>
<line x1="551.60" y1="190.60" x2="551.60" y2="197.40" stroke="#f08714" stroke-width="1.6"/>
<circle cx="551.60" cy="194.00" r="3.0" fill="#f08714"/>
<line x1="606.36" y1="133.40" x2="606.36" y2="146.40" stroke="#f08714" stroke-width="1.6"/>
<circle cx="606.36" cy="139.90" r="3.0" fill="#f08714"/>
<line x1="624.62" y1="102.80" x2="624.62" y2="127.80" stroke="#f08714" stroke-width="1.6"/>
<circle cx="624.62" cy="115.30" r="3.0" fill="#f08714"/>
<line x1="642.87" y1="80.70" x2="642.87" y2="110.70" stroke="#f08714" stroke-width="1.6"/>
<circle cx="642.87" cy="95.70" r="3.0" fill="#f08714"/>
<path d="M387.30,215.60 L388.58,215.60 L389.87,215.59 L391.15,215.57 L392.44,215.55 L393.72,215.52 L395.01,215.48 L396.29,215.44 L397.57,215.39 L398.86,215.34 L400.14,215.28 L401.43,215.21 L402.71,215.14 L404.00,215.06 L405.28,214.97 L406.56,214.88 L407.85,214.78 L409.13,214.68 L410.42,214.57 L411.70,214.46 L412.99,214.34 L414.27,214.21 L415.55,214.08 L416.84,213.94 L418.12,213.80 L419.41,213.65 L420.69,213.50 L421.98,213.34 L423.26,213.17 L424.54,213.00 L425.83,212.83 L427.11,212.65 L428.40,212.46 L429.68,212.27 L430.97,212.08 L432.25,211.88 L433.53,211.67 L434.82,211.46 L436.10,211.24 L437.39,211.02 L438.67,210.80 L439.96,210.57 L441.24,210.33 L442.52,210.09 L443.81,209.85 L445.09,209.60 L446.38,209.34 L447.66,209.08 L448.95,208.82 L450.23,208.55 L451.51,208.28 L452.80,208.01 L454.08,207.73 L455.37,207.44 L456.65,207.15 L457.93,206.86 L459.22,206.56 L460.50,206.26 L461.79,205.96 L463.07,205.65 L464.36,205.34 L465.64,205.02 L466.92,204.70 L468.21,204.38 L469.49,204.05 L470.78,203.72 L472.06,203.38 L473.35,203.04 L474.63,202.70 L475.91,202.35 L477.20,202.00 L478.48,201.65 L479.77,201.30 L481.05,200.94 L482.34,200.57 L483.62,200.21 L484.90,199.84 L486.19,199.46 L487.47,199.09 L488.76,198.71 L490.04,198.33 L491.33,197.94 L492.61,197.56 L493.89,197.17 L495.18,196.77 L496.46,196.38 L497.75,195.98 L499.03,195.58 L500.32,195.17 L501.60,194.77 L502.88,194.36 L504.17,193.95 L505.45,193.53 L506.74,193.11 L508.02,192.70 L509.31,192.27 L510.59,191.85 L511.87,191.43 L513.16,191.00 L514.44,190.57 L515.73,190.13 L517.01,189.70 L518.30,189.26 L519.58,188.83 L520.86,188.39 L522.15,187.94 L523.43,187.50 L524.72,187.05 L526.00,186.61 L527.29,186.16 L528.57,185.71 L529.85,185.26 L531.14,184.80 L532.42,184.35 L533.71,183.89 L534.99,183.43 L536.28,182.97 L537.56,182.51 L538.84,182.05 L540.13,181.58 L541.41,181.12 L542.70,180.65 L543.98,180.19 L545.27,179.72 L546.55,179.25 L547.83,178.78 L549.12,178.31 L550.40,177.84 L551.69,177.37 L552.97,176.87 L554.26,176.34 L555.54,175.78 L556.82,175.19 L558.11,174.56 L559.39,173.91 L560.68,173.23 L561.96,172.53 L563.25,171.80 L564.53,171.04 L565.81,170.27 L567.10,169.48 L568.38,168.67 L569.67,167.84 L570.95,167.00 L572.24,166.15 L573.52,165.28 L574.80,164.41 L576.09,163.52 L577.37,162.63 L578.66,161.68 L579.94,160.69 L581.22,159.65 L582.51,158.58 L583.79,157.46 L585.08,156.32 L586.36,155.15 L587.65,153.95 L588.93,152.73 L590.21,151.50 L591.50,150.26 L592.78,149.01 L594.07,147.75 L595.35,146.50 L596.64,145.25 L597.92,144.02 L599.20,142.79 L600.49,141.58 L601.77,140.40 L603.06,139.24 L604.34,138.11 L605.63,137.01 L606.91,135.95 L608.19,134.90 L609.48,133.85 L610.76,132.81 L612.05,131.78 L613.33,130.76 L614.62,129.74 L615.90,128.73 L617.18,127.73 L618.47,126.74 L619.75,125.77 L621.04,124.80 L622.32,123.84 L623.61,122.90 L624.89,121.97 L626.17,121.05 L627.46,120.15 L628.74,119.26 L630.03,118.38 L631.31,117.49 L632.60,116.58 L633.88,115.69 L635.16,114.85 L636.45,114.11 L637.73,113.51 L639.02,113.03 L640.30,112.60 L641.59,112.26 L642.87,112.00" fill="none" stroke="#a27df6" stroke-width="1.6" stroke-linejoin="round" stroke-linecap="square"/>
<circle cx="387.30" cy="215.60" r="3.0" fill="#a27df6"/>
<circle cx="551.60" cy="177.40" r="3.0" fill="#a27df6"/>
<circle cx="606.36" cy="136.40" r="3.0" fill="#a27df6"/>
<circle cx="642.87" cy="112.00" r="3.0" fill="#a27df6"/>
<path d="M387.30,230.90 L388.58,230.90 L389.87,230.90 L391.15,230.89 L392.44,230.88 L393.72,230.87 L395.01,230.86 L396.29,230.85 L397.57,230.83 L398.86,230.81 L400.14,230.79 L401.43,230.77 L402.71,230.75 L404.00,230.72 L405.28,230.69 L406.56,230.67 L407.85,230.63 L409.13,230.60 L410.42,230.57 L411.70,230.53 L412.99,230.49 L414.27,230.46 L415.55,230.41 L416.84,230.37 L418.12,230.33 L419.41,230.28 L420.69,230.24 L421.98,230.19 L423.26,230.14 L424.54,230.09 L425.83,230.04 L427.11,229.99 L428.40,229.93 L429.68,229.88 L430.97,229.82 L432.25,229.77 L433.53,229.71 L434.82,229.65 L436.10,229.59 L437.39,229.53 L438.67,229.47 L439.96,229.40 L441.24,229.34 L442.52,229.28 L443.81,229.20 L445.09,229.12 L446.38,229.02 L447.66,228.91 L448.95,228.80 L450.23,228.67 L451.51,228.53 L452.80,228.39 L454.08,228.23 L455.37,228.07 L456.65,227.89 L457.93,227.71 L459.22,227.52 L460.50,227.32 L461.79,227.12 L463.07,226.91 L464.36,226.69 L465.64,226.46 L466.92,226.23 L468.21,226.00 L469.49,225.75 L470.78,225.51 L472.06,225.25 L473.35,224.99 L474.63,224.73 L475.91,224.47 L477.20,224.20 L478.48,223.92 L479.77,223.65 L481.05,223.37 L482.34,223.08 L483.62,222.80 L484.90,222.51 L486.19,222.22 L487.47,221.93 L488.76,221.64 L490.04,221.35 L491.33,221.05 L492.61,220.76 L493.89,220.47 L495.18,220.18 L496.46,219.88 L497.75,219.59 L499.03,219.29 L500.32,218.99 L501.60,218.67 L502.88,218.36 L504.17,218.03 L505.45,217.70 L506.74,217.36 L508.02,217.02 L509.31,216.67 L510.59,216.32 L511.87,215.95 L513.16,215.59 L514.44,215.21 L515.73,214.83 L517.01,214.45 L518.30,214.05 L519.58,213.66 L520.86,213.25 L522.15,212.84 L523.43,212.43 L524.72,212.00 L526.00,211.57 L527.29,211.14 L528.57,210.70 L529.85,210.25 L531.14,209.80 L532.42,209.34 L533.71,208.88 L534.99,208.41 L536.28,207.93 L537.56,207.45 L538.84,206.96 L540.13,206.47 L541.41,205.97 L542.70,205.46 L543.98,204.95 L545.27,204.43 L546.55,203.91 L547.83,203.38 L549.12,202.85 L550.40,202.31 L551.69,201.76 L552.97,201.21 L554.26,200.65 L555.54,200.09 L556.82,199.52 L558.11,198.95 L559.39,198.37 L560.68,197.78 L561.96,197.19 L563.25,196.58 L564.53,195.97 L565.81,195.35 L567.10,194.72 L568.38,194.07 L569.67,193.42 L570.95,192.76 L572.24,192.09 L573.52,191.40 L574.80,190.70 L576.09,189.99 L577.37,189.27 L578.66,188.53 L579.94,187.78 L581.22,187.01 L582.51,186.23 L583.79,185.43 L585.08,184.62 L586.36,183.79 L587.65,182.94 L588.93,182.08 L590.21,181.19 L591.50,180.29 L592.78,179.37 L594.07,178.44 L595.35,177.48 L596.64,176.50 L597.92,175.50 L599.20,174.48 L600.49,173.44 L601.77,172.38 L603.06,171.30 L604.34,170.19 L605.63,169.06 L606.91,167.90 L608.19,166.66 L609.48,165.35 L610.76,163.97 L612.05,162.51 L613.33,160.97 L614.62,159.37 L615.90,157.70 L617.18,155.97 L618.47,154.18 L619.75,152.33 L621.04,150.43 L622.32,148.47 L623.61,146.46 L624.89,144.40 L626.17,142.30 L627.46,140.15 L628.74,137.97 L630.03,135.74 L631.31,133.49 L632.60,131.19 L633.88,128.87 L635.16,126.52 L636.45,124.15 L637.73,121.75 L639.02,119.34 L640.30,116.91 L641.59,114.46 L642.87,112.00" fill="none" stroke="#4dbfe0" stroke-width="1.6" stroke-linejoin="round" stroke-linecap="square"/>
<circle cx="387.30" cy="230.90" r="3.0" fill="#4dbfe0"/>
<circle cx="442.06" cy="229.30" r="3.0" fill="#4dbfe0"/>
<circle cx="496.83" cy="219.80" r="3.0" fill="#4dbfe0"/>
<line x1="551.60" y1="198.00" x2="551.60" y2="205.60" stroke="#4dbfe0" stroke-width="1.6"/>
<circle cx="551.60" cy="201.80" r="3.0" fill="#4dbfe0"/>
<line x1="606.36" y1="156.90" x2="606.36" y2="179.90" stroke="#4dbfe0" stroke-width="1.6"/>
<circle cx="606.36" cy="168.40" r="3.0" fill="#4dbfe0"/>
<line x1="642.87" y1="92.00" x2="642.87" y2="132.00" stroke="#4dbfe0" stroke-width="1.6"/>
<circle cx="642.87" cy="112.00" r="3.0" fill="#4dbfe0"/></g>
<line x1="54.90" y1="244.40" x2="54.90" y2="239.50" stroke="#000" stroke-width="1.1"/>
<text x="54.90" y="258.4" text-anchor="middle" class="t">0</text>
<line x1="127.92" y1="244.40" x2="127.92" y2="239.50" stroke="#000" stroke-width="1.1"/>
<text x="127.92" y="258.4" text-anchor="middle" class="t">20</text>
<line x1="200.94" y1="244.40" x2="200.94" y2="239.50" stroke="#000" stroke-width="1.1"/>
<text x="200.94" y="258.4" text-anchor="middle" class="t">40</text>
<line x1="273.96" y1="244.40" x2="273.96" y2="239.50" stroke="#000" stroke-width="1.1"/>
<text x="273.96" y="258.4" text-anchor="middle" class="t">60</text>
<text x="346.98" y="258.4" text-anchor="middle" class="t">80</text>
<text x="42.60" y="249.10" text-anchor="end" class="t" textLength="22.0" lengthAdjust="spacingAndGlyphs">0.00</text>
<line x1="47.50" y1="219.66" x2="52.40" y2="219.66" stroke="#000" stroke-width="1.1"/>
<text x="42.60" y="224.36" text-anchor="end" class="t" textLength="22.0" lengthAdjust="spacingAndGlyphs">0.25</text>
<line x1="47.50" y1="194.93" x2="52.40" y2="194.93" stroke="#000" stroke-width="1.1"/>
<text x="42.60" y="199.62" text-anchor="end" class="t" textLength="22.0" lengthAdjust="spacingAndGlyphs">0.50</text>
<line x1="47.50" y1="170.19" x2="52.40" y2="170.19" stroke="#000" stroke-width="1.1"/>
<text x="42.60" y="174.89" text-anchor="end" class="t" textLength="22.0" lengthAdjust="spacingAndGlyphs">0.75</text>
<line x1="47.50" y1="145.45" x2="52.40" y2="145.45" stroke="#000" stroke-width="1.1"/>
<text x="42.60" y="150.15" text-anchor="end" class="t" textLength="22.0" lengthAdjust="spacingAndGlyphs">1.00</text>
<line x1="47.50" y1="120.71" x2="52.40" y2="120.71" stroke="#000" stroke-width="1.1"/>
<text x="42.60" y="125.41" text-anchor="end" class="t" textLength="22.0" lengthAdjust="spacingAndGlyphs">1.25</text>
<line x1="47.50" y1="95.97" x2="52.40" y2="95.97" stroke="#000" stroke-width="1.1"/>
<text x="42.60" y="100.67" text-anchor="end" class="t" textLength="22.0" lengthAdjust="spacingAndGlyphs">1.50</text>
<line x1="47.50" y1="71.24" x2="52.40" y2="71.24" stroke="#000" stroke-width="1.1"/>
<text x="42.60" y="75.94" text-anchor="end" class="t" textLength="22.0" lengthAdjust="spacingAndGlyphs">1.75</text>
<text x="42.60" y="51.20" text-anchor="end" class="t" textLength="22.0" lengthAdjust="spacingAndGlyphs">2.00</text>
<path d="M47.50,46.50 H347.00 V244.40 H47.50 Z" fill="none" stroke="#000" stroke-width="1.1" stroke-linejoin="miter"/>
<line x1="387.30" y1="244.40" x2="387.30" y2="239.50" stroke="#000" stroke-width="1.1"/>
<text x="387.30" y="258.4" text-anchor="middle" class="t">0</text>
<line x1="460.32" y1="244.40" x2="460.32" y2="239.50" stroke="#000" stroke-width="1.1"/>
<text x="460.32" y="258.4" text-anchor="middle" class="t">20</text>
<line x1="533.34" y1="244.40" x2="533.34" y2="239.50" stroke="#000" stroke-width="1.1"/>
<text x="533.34" y="258.4" text-anchor="middle" class="t">40</text>
<line x1="606.36" y1="244.40" x2="606.36" y2="239.50" stroke="#000" stroke-width="1.1"/>
<text x="606.36" y="258.4" text-anchor="middle" class="t">60</text>
<text x="679.38" y="258.4" text-anchor="middle" class="t">80</text>
<text x="375.10" y="249.10" text-anchor="end" class="t">0</text>
<line x1="380.00" y1="216.13" x2="384.90" y2="216.13" stroke="#000" stroke-width="1.1"/>
<text x="375.10" y="220.83" text-anchor="end" class="t">2</text>
<line x1="380.00" y1="187.86" x2="384.90" y2="187.86" stroke="#000" stroke-width="1.1"/>
<text x="375.10" y="192.56" text-anchor="end" class="t">4</text>
<line x1="380.00" y1="159.58" x2="384.90" y2="159.58" stroke="#000" stroke-width="1.1"/>
<text x="375.10" y="164.28" text-anchor="end" class="t">6</text>
<line x1="380.00" y1="131.31" x2="384.90" y2="131.31" stroke="#000" stroke-width="1.1"/>
<text x="375.10" y="136.01" text-anchor="end" class="t">8</text>
<line x1="380.00" y1="103.04" x2="384.90" y2="103.04" stroke="#000" stroke-width="1.1"/>
<text x="375.10" y="107.74" text-anchor="end" class="t">10</text>
<line x1="380.00" y1="74.77" x2="384.90" y2="74.77" stroke="#000" stroke-width="1.1"/>
<text x="375.10" y="79.47" text-anchor="end" class="t">12</text>
<text x="375.10" y="51.20" text-anchor="end" class="t">14</text>
<path d="M380.00,46.50 H679.30 V244.40 H380.00 Z" fill="none" stroke="#000" stroke-width="1.1" stroke-linejoin="miter"/>
<text x="62.8" y="65.8" class="pl"><tspan font-weight="bold" font-size="12" stroke="#000" stroke-width="0.45">A</tspan><tspan dx="5.6">H</tspan></text>
<text x="395.3" y="65.8" class="pl"><tspan font-weight="bold" font-size="12" stroke="#000" stroke-width="0.35">B</tspan><tspan dx="5.3">He</tspan></text>
<text x="342.5" y="278.0" text-anchor="middle" class="al">Incidence Angle <tspan font-style="italic">α</tspan> (°)</text>
<text transform="translate(10.5,145.8) rotate(-90)" text-anchor="middle" class="al">Sputter Yield <tspan font-style="italic">Y</tspan> (amu ion<tspan dy="-4.8" font-size="9.2">−1</tspan><tspan dy="4.8">)</tspan></text>
<rect x="136.0" y="0.45" width="413.5" height="38.55" rx="1.5" fill="#fff" fill-opacity="0.8" stroke="#cccccc" stroke-width="1"/>
<line x1="139.8" y1="9.9" x2="164" y2="9.9" stroke="#14b396" stroke-width="1.8"/>
<line x1="139.8" y1="28" x2="164" y2="28" stroke="#5a5a5a" stroke-width="1.8" stroke-dasharray="5.5,2.4"/>
<text x="172.2" y="14.0" class="lt" textLength="123.3" lengthAdjust="spacingAndGlyphs">SDTrimSP (Szabo et al.)</text>
<text x="172.2" y="31.0" class="lt" textLength="112.4" lengthAdjust="spacingAndGlyphs">SpuBase (Jäggi et al.)</text>
<line x1="329.9" y1="4.300000000000001" x2="329.9" y2="15.5" stroke="#4dbfe0" stroke-width="1.6"/><circle cx="329.9" cy="9.9" r="3.3" fill="#4dbfe0"/>
<line x1="329.9" y1="21.1" x2="329.9" y2="32.3" stroke="#a27df6" stroke-width="1.6"/><circle cx="329.9" cy="26.7" r="3.3" fill="#a27df6"/>
<line x1="460.2" y1="4.300000000000001" x2="460.2" y2="15.5" stroke="#f08714" stroke-width="1.6"/><circle cx="460.2" cy="9.9" r="3.3" fill="#f08714"/>
<line x1="460.2" y1="21.1" x2="460.2" y2="32.3" stroke="#e3174d" stroke-width="1.6"/><circle cx="460.2" cy="26.7" r="3.3" fill="#e3174d"/>
<text x="350.7" y="13.8" class="lt" textLength="74.3" lengthAdjust="spacingAndGlyphs">Apollo #68501</text>
<text x="350.7" y="30.9" class="lt" textLength="33.3" lengthAdjust="spacingAndGlyphs">Augite</text>
<text x="481.1" y="13.8" class="lt" textLength="64.1" lengthAdjust="spacingAndGlyphs">Wollastonite</text>
<text x="481.0" y="30.9" class="lt" textLength="45.6" lengthAdjust="spacingAndGlyphs">Enstatite</text>
</svg>
</body></html>
